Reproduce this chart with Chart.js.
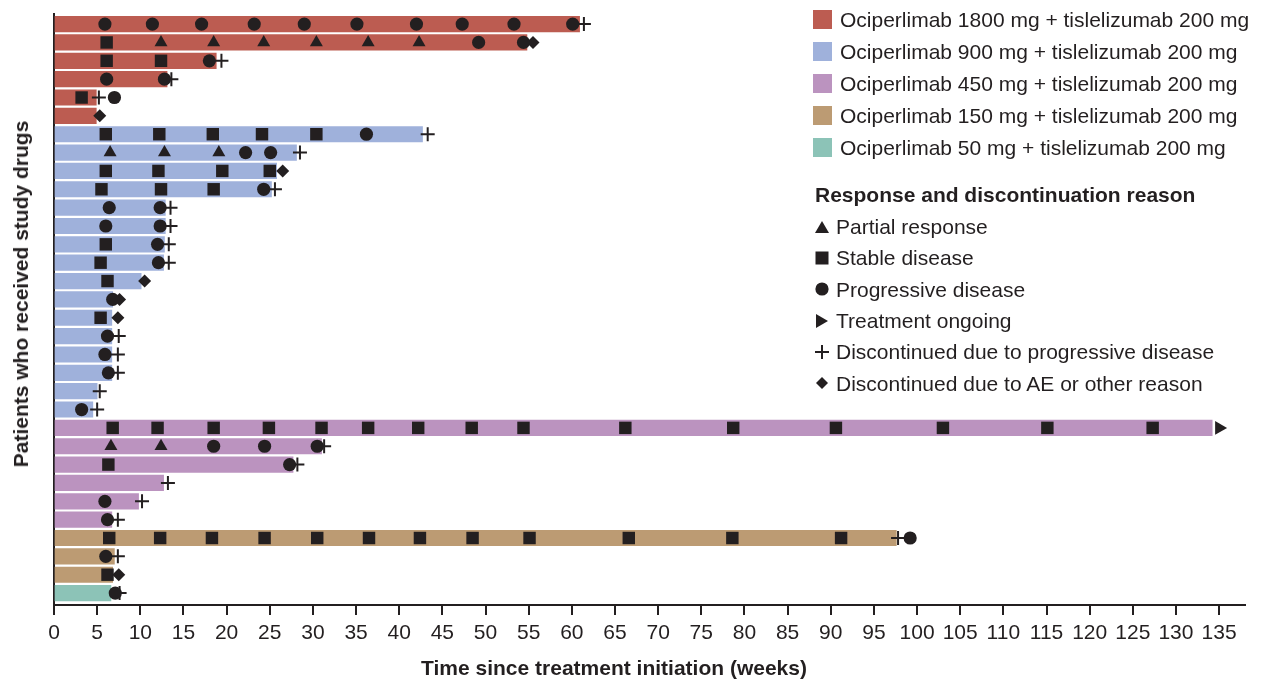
<!DOCTYPE html>
<html>
<head>
<meta charset="utf-8">
<title>Swimmer plot</title>
<script src="https://cdn.jsdelivr.net/npm/chart.js@4.4.1/dist/chart.umd.min.js"></script>
<style>
  body { margin: 0; background: #fff; font-family: "Liberation Sans", Arial, sans-serif; color: #231f20; }
  #wrap { position: relative; width: 1265px; height: 682px; overflow: hidden; }
  canvas { position: absolute; left: 0; top: 0; }
  .axis-title { position: absolute; font-weight: bold; font-size: 21px; white-space: nowrap; transform: translate(-50%, -50%); }
  #ytitle { left: 21px; top: 294px; transform: translate(-50%, -50%) rotate(-90deg); }
  #xtitle { left: 614px; top: 668px; }
  .leg { position: absolute; font-size: 21px; white-space: nowrap; line-height: 1; }
  .leg .row { position: absolute; left: 0; display: flex; align-items: center; height: 24px; }
  .leg .box { width: 19px; height: 19px; margin-right: 8px; }
  .leg .sym { width: 14px; height: 14px; margin-right: 7px; }
  .leg .head { font-weight: bold; }
</style>
</head>
<body>
<div id="wrap">
  <canvas id="swimmerChart" width="1265" height="682"></canvas>
  <div class="axis-title" id="ytitle">Patients who received study drugs</div>
  <div class="axis-title" id="xtitle">Time since treatment initiation (weeks)</div>
  <div class="leg" id="doseLegend" style="left:813px; top:0px;"></div>
  <div class="leg" id="markLegend" style="left:815px; top:0px;"></div>
</div>
<script>
// dose groups
const groupNames = [
    "Ociperlimab 1800 mg + tislelizumab 200 mg",
    "Ociperlimab 900 mg + tislelizumab 200 mg",
    "Ociperlimab 450 mg + tislelizumab 200 mg",
    "Ociperlimab 150 mg + tislelizumab 200 mg",
    "Ociperlimab 50 mg + tislelizumab 200 mg",
];
const groupColors = ["#bc5c51", "#9fb1db", "#bb93bf", "#bc9b73", "#8cc3b7"];

// one entry per patient row (top to bottom)
const rowGroup = [
    0, 0, 0, 0, 0, 0,
    1, 1, 1, 1, 1, 1, 1, 1, 1, 1, 1, 1, 1, 1, 1, 1,
    2, 2, 2, 2, 2, 2,
    3, 3, 3,
    4,
];
const rowWeeks = [
    60.9, 54.8, 18.8, 13.1, 4.9, 4.9,
    42.7, 28.1, 25.8, 25.2, 12.9, 12.9, 12.8, 12.7, 10.1, 6.8, 6.7, 6.7, 6.7, 6.7, 5.0, 4.5,
    134.2, 31.0, 27.7, 12.7, 9.8, 6.7,
    97.6, 7.0, 6.8,
    6.6,
];

// markers: [row, week]
const partialResponse = [
    [1, 12.4], [1, 18.5], [1, 24.3], [1, 30.4], [1, 36.4], [1, 42.3],
    [7, 6.5], [7, 12.8], [7, 19.1],
    [23, 6.6], [23, 12.4],
];
const stableDisease = [
    [1, 6.1], [2, 6.1], [2, 12.4], [4, 3.2],
    [6, 6.0], [6, 12.2], [6, 18.4], [6, 24.1], [6, 30.4],
    [8, 6.0], [8, 12.1], [8, 19.5], [8, 25.0],
    [9, 5.5], [9, 12.4], [9, 18.5],
    [12, 6.0], [13, 5.4], [14, 6.2], [16, 5.4],
    [22, 6.8], [22, 12.0], [22, 18.5], [22, 24.9], [22, 31.0], [22, 36.4], [22, 42.2], [22, 48.4],
    [22, 54.4], [22, 66.2], [22, 78.7], [22, 90.6], [22, 103.0], [22, 115.1], [22, 127.3],
    [24, 6.3],
    [28, 6.4], [28, 12.3], [28, 18.3], [28, 24.4], [28, 30.5], [28, 36.5], [28, 42.4], [28, 48.5],
    [28, 55.1], [28, 66.6], [28, 78.6], [28, 91.2],
    [30, 6.2],
];
const progressiveDisease = [
    [0, 5.9], [0, 11.4], [0, 17.1], [0, 23.2], [0, 29.0], [0, 35.1], [0, 42.0], [0, 47.3], [0, 53.3], [0, 60.1],
    [1, 49.2], [1, 54.4], [2, 18.0], [3, 6.1], [3, 12.8], [4, 7.0],
    [6, 36.2], [7, 22.2], [7, 25.1], [9, 24.3],
    [10, 6.4], [10, 12.3], [11, 6.0], [11, 12.3], [12, 12.0], [13, 12.1],
    [15, 6.8], [17, 6.2], [18, 5.9], [19, 6.3], [21, 3.2],
    [23, 18.5], [23, 24.4], [23, 30.5], [24, 27.3], [26, 5.9], [27, 6.2],
    [28, 99.2], [29, 6.0], [31, 7.1],
];
const treatmentOngoing = [[22, 135.0]];
const discProgression = [
    [0, 61.4], [2, 19.4], [3, 13.6], [4, 5.2],
    [6, 43.3], [7, 28.5], [9, 25.6], [10, 13.5], [11, 13.5], [12, 13.3], [13, 13.3],
    [17, 7.5], [18, 7.4], [19, 7.4], [20, 5.3], [21, 5.0],
    [23, 31.3], [24, 28.2], [25, 13.2], [26, 10.2], [27, 7.4],
    [28, 97.8], [29, 7.4], [31, 7.6],
];
const discOther = [
    [1, 55.5], [5, 5.3], [8, 26.5], [14, 10.5], [15, 7.6], [16, 7.4], [30, 7.5],
];

const markColor = "#231f20";

function toPoints(list) {
    return list.map((p) => ({ x: p[1], y: p[0] }));
}

function markerSet(label, list, style, radius, extra) {
    return Object.assign({
        type: "scatter",
        label: label,
        data: toPoints(list),
        pointStyle: style,
        pointRadius: radius,
        pointHoverRadius: radius,
        backgroundColor: markColor,
        borderColor: markColor,
        borderWidth: 0,
    }, extra || {});
}

function createSwimmerChart(canvasId) {
    const ctx = document.getElementById(canvasId).getContext("2d");
    new Chart(ctx, {
        type: "scatter",
        data: {
            datasets: [
                markerSet("Progressive disease", progressiveDisease, "circle", 6.6, { order: 0 }),
                markerSet("Stable disease", stableDisease, "rect", 8.8, { order: 1 }),
                markerSet("Partial response", partialResponse, "triangle", 7.5, { order: 2 }),
                markerSet("Treatment ongoing", treatmentOngoing, "triangle", 8, { order: 3, rotation: 90 }),
                markerSet("Discontinued due to progressive disease", discProgression, "cross", 7, { order: 5, borderWidth: 2 }),
                markerSet("Discontinued due to AE or other reason", discOther, "rectRot", 6.5, { order: 4 }),
                {
                    type: "bar",
                    label: "Time on treatment",
                    indexAxis: "y",
                    data: rowWeeks.map((w, i) => ({ x: w, y: i })),
                    backgroundColor: rowGroup.map((g) => groupColors[g]),
                    borderWidth: 0,
                    barThickness: 15.5,
                    grouped: false,
                    order: 10,
                },
            ],
        },
        options: {
            responsive: false,
            devicePixelRatio: 1,
            animation: false,
            layout: { padding: { top: 14, right: 20, left: 0, bottom: 0 } },
            plugins: {
                legend: { display: false },
                tooltip: { enabled: false },
            },
            scales: {
                x: {
                    type: "linear",
                    min: 0,
                    max: 138,
                    offset: false,
                    border: { color: markColor, width: 2 },
                    grid: {
                        drawOnChartArea: false,
                        drawTicks: true,
                        offset: false,
                        tickLength: 10,
                        color: markColor,
                        lineWidth: 2,
                    },
                    ticks: {
                        stepSize: 5,
                        includeBounds: false,
                        autoSkip: false,
                        maxRotation: 0,
                        padding: 6,
                        color: markColor,
                        font: { family: "'Liberation Sans', Arial, sans-serif", size: 21 },
                    },
                    afterFit: (scale) => { scale.height = 77; },
                },
                y: {
                    type: "linear",
                    reverse: true,
                    min: -0.55,
                    max: 31.65,
                    offset: false,
                    border: { color: markColor, width: 2 },
                    grid: { display: false, offset: false },
                    ticks: { display: false },
                    afterFit: (scale) => { scale.width = 54; },
                },
            },
        },
    });
}

// legends as html
function symbolSvg(kind) {
    const c = markColor;
    const shapes = {
        triangle: `<polygon points="7,1 14,13 0,13" fill="${c}"/>`,
        square: `<rect x="0.5" y="0.5" width="13" height="13" fill="${c}"/>`,
        circle: `<circle cx="7" cy="7" r="6.6" fill="${c}"/>`,
        play: `<polygon points="1,0 13,7 1,14" fill="${c}"/>`,
        plus: `<path d="M7 0 V14 M0 7 H14" stroke="${c}" stroke-width="2"/>`,
        diamond: `<polygon points="7,1 13,7 7,13 1,7" fill="${c}"/>`,
    };
    return `<svg class="sym" viewBox="0 0 14 14">${shapes[kind]}</svg>`;
}

const markerLabels = [
    ["triangle", "Partial response"],
    ["square", "Stable disease"],
    ["circle", "Progressive disease"],
    ["play", "Treatment ongoing"],
    ["plus", "Discontinued due to progressive disease"],
    ["diamond", "Discontinued due to AE or other reason"],
];

function buildLegends() {
    const dose = document.getElementById("doseLegend");
    groupNames.forEach((name, i) => {
        const top = 19 + i * 32.1 - 12;
        dose.innerHTML += `<div class="row" style="top:${top}px"><span class="box" style="background:${groupColors[i]}"></span>${name}</div>`;
    });
    const mark = document.getElementById("markLegend");
    mark.innerHTML += `<div class="row head" style="top:${194 - 12}px">Response and discontinuation reason</div>`;
    markerLabels.forEach((m, i) => {
        const top = 226.5 + i * 31.35 - 12;
        mark.innerHTML += `<div class="row" style="top:${top}px">${symbolSvg(m[0])}${m[1]}</div>`;
    });
}

createSwimmerChart("swimmerChart");
buildLegends();
</script>
</body>
</html>
